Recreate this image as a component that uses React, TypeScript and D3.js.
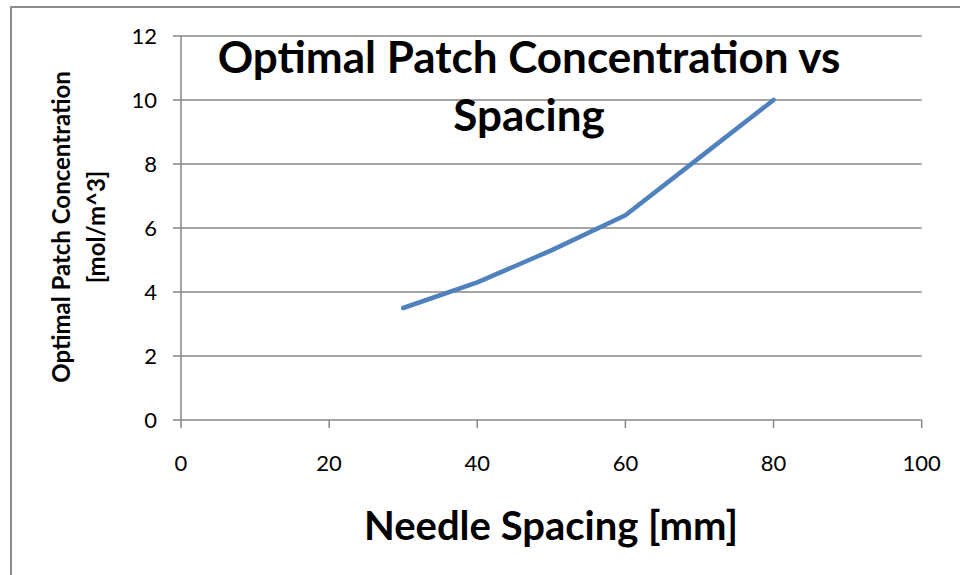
import React from "react";
import * as d3 from "d3";

const spacing = [30, 40, 50, 60, 70, 80];
const concentration = [3.5, 4.3, 5.3, 6.4, 8.2, 10.0];
const xTicks = [0, 20, 40, 60, 80, 100];
const yTicks = [0, 2, 4, 6, 8, 10, 12];
const titleLines = ["Optimal Patch Concentration vs", "Spacing"];
const yLabelLines = ["Optimal Patch Concentration", "[mol/m^3]"];
const xLabel = "Needle Spacing [mm]";

const W = 960;
const H = 575;
const left = 181;
const right = 921.7;
const top = 36;
const bottom = 420;
const font = "Lato, 'Open Sans', sans-serif";
const grid = "#878787";

export default function App() {
  const x = d3.scaleLinear().domain([0, 100]).range([left, right]);
  const y = d3.scaleLinear().domain([0, 12]).range([bottom, top]);
  const line = d3
    .line<number>()
    .x((_, i) => x(spacing[i]))
    .y((d) => y(d));
  const yMid = 227;

  return (
    <svg
      width={W}
      height={H}
      style={{ position: "absolute", left: 0, top: 0, background: "#fff" }}
      fontFamily={font}
    >
      <rect x={11} y={7} width={W + 20} height={H + 20} fill="#fff" stroke="#8c8c8c" strokeWidth={2} />
      {yTicks.map((t) => (
        <g key={"y" + t}>
          <line x1={left - 8} x2={right} y1={y(t)} y2={y(t)} stroke={grid} strokeWidth={1.5} />
          <text x={157} y={y(t)} dy="0.36em" textAnchor="end" fontSize={22} fill="#000">
            {t}
          </text>
        </g>
      ))}
      <line x1={left} x2={left} y1={top} y2={bottom} stroke={grid} strokeWidth={1.5} />
      {xTicks.map((t) => (
        <g key={"x" + t}>
          <line x1={x(t)} x2={x(t)} y1={bottom} y2={bottom + 8} stroke={grid} strokeWidth={1.5} />
          <text x={x(t)} y={463} dy="0.36em" textAnchor="middle" fontSize={22} fill="#000">
            {t}
          </text>
        </g>
      ))}
      <path
        d={line(concentration) || ""}
        fill="none"
        stroke="#4F81BD"
        strokeWidth={4.5}
        strokeLinejoin="round"
        strokeLinecap="round"
      />
      {titleLines.map((s, i) => (
        <text
          key={s}
          x={529}
          y={73 + i * 58}
          textAnchor="middle"
          fontSize={44}
          fontWeight="bold"
          fill="#000"
        >
          {s}
        </text>
      ))}
      <g transform={`translate(0, ${yMid}) rotate(-90)`}>
        {yLabelLines.map((s, i) => (
          <text
            key={s}
            x={0}
            y={70 + i * 35}
            textAnchor="middle"
            fontSize={24}
            fontWeight="bold"
            fill="#000"
          >
            {s}
          </text>
        ))}
      </g>
      <text x={551} y={540} textAnchor="middle" fontSize={40} fontWeight="bold" fill="#000">
        {xLabel}
      </text>
    </svg>
  );
}
